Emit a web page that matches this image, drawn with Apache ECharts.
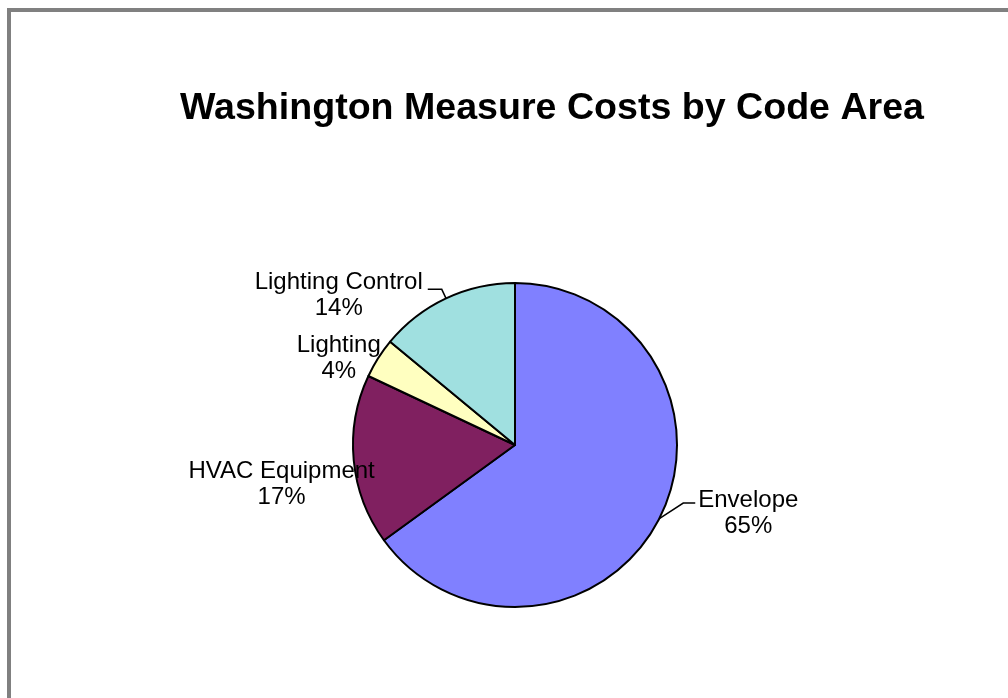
<!DOCTYPE html>
<html>
<head>
<meta charset="utf-8">
<script src="https://cdn.jsdelivr.net/npm/echarts@6/dist/echarts.min.js"></script>
<style>
html,body{margin:0;padding:0;background:#fff;}
#chart{width:1008px;height:698px;}
</style>
</head>
<body>
<div id="chart"></div>
<script>
const titleText = 'Washington Measure Costs by Code Area';
const categories = ['Envelope', 'HVAC Equipment', 'Lighting', 'Lighting Control'];
const values = [65, 17, 4, 14];
const colors = ['#8080FF', '#802060', '#FFFFC0', '#A0E0E0'];

const chart = echarts.init(document.getElementById('chart'), null, {renderer: 'canvas'});

// label nudges (dx, dy) and leader-line bends relative to the library's own layout
const labelOffsets = [
  {dx: 11, dy: -10, bend: [15, -20, 12]},
  {dx: 50, dy: 23, bend: null},
  {dx: 30, dy: 6, bend: null},
  {dx: 0, dy: 6, bend: null}
];

chart.setOption({
  backgroundColor: '#ffffff',
  animation: false,
  title: {
    text: titleText,
    left: 547,
    top: 85,
    textAlign: 'center',
    textStyle: {fontFamily: 'Liberation Sans, Arial, sans-serif', fontSize: 37.6, fontWeight: 'bold', color: '#000'}
  },
  graphic: [{
    type: 'rect',
    shape: {x: 9, y: 10, width: 1200, height: 900},
    style: {fill: 'none', stroke: '#808080', lineWidth: 4},
    silent: true
  }],
  series: [{
    type: 'pie',
    center: [515, 445],
    radius: [0, 162],
    startAngle: 90,
    clockwise: true,
    avoidLabelOverlap: false,
    itemStyle: {borderColor: '#000', borderWidth: 2},
    label: {
      show: true,
      position: 'outside',
      formatter: '{t|{b}}\n{t|{d}%}',
      rich: {
        t: {align: 'center', fontFamily: 'Liberation Sans, Arial, sans-serif', fontSize: 24, lineHeight: 26, color: '#000'}
      }
    },
    labelLine: {show: true, length: 10, length2: 14, smooth: false, lineStyle: {color: '#000', width: 1.5}},
    labelLayout: function (p) {
      const o = labelOffsets[p.dataIndex];
      const res = {dx: o.dx, dy: o.dy};
      if (o.bend && p.labelLinePoints) {
        const pts = p.labelLinePoints;
        const p1 = [pts[1][0] + o.bend[0], pts[2][1] + o.bend[1]];
        const p2 = [p1[0] + o.bend[2], p1[1]];
        res.labelLinePoints = [pts[0], p1, p2];
      }
      return res;
    },
    data: categories.map((c, i) => {
      const d = {name: c, value: values[i], itemStyle: {color: colors[i]}};
      if (i === 1 || i === 2) d.labelLine = {show: false};
      return d;
    })
  }]
});
</script>
</body>
</html>
